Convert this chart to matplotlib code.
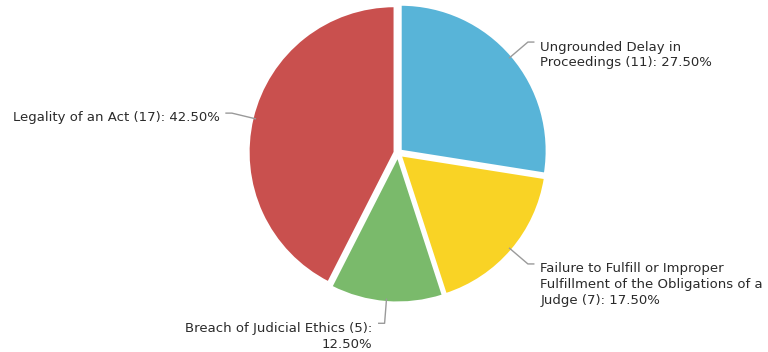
import numpy as np
import matplotlib
matplotlib.use("Agg")
import matplotlib.pyplot as plt

# complaint categories, counts and shares (clockwise from 12 o'clock)
labels = [
    "Ungrounded Delay in\nProceedings (11): 27.50%",
    "Failure to Fulfill or Improper\nFulfillment of the Obligations of a\nJudge (7): 17.50%",
    "Breach of Judicial Ethics (5):\n12.50%",
    "Legality of an Act (17): 42.50%",
]
counts = [11, 7, 5, 17]
colors = ["#58b4d8", "#f9d325", "#7aba6b", "#c9504e"]

W, H = 768, 352
cx, cy, R = 398, 153, 146  # pie centre / radius in pixels

fig = plt.figure(figsize=(W / 100, H / 100), dpi=100)
ax = fig.add_axes([0, 0, 1, 1])

wedges, _ = ax.pie(
    counts,
    startangle=90,
    counterclock=False,
    explode=[0.024] * len(counts),
    colors=colors,
    wedgeprops=dict(edgecolor="white", linewidth=1.5),
)

ax.set_xlim(-cx / R, (W - cx) / R)
ax.set_ylim(-(H - cy) / R, cy / R)
ax.set_aspect("equal")
ax.axis("off")

for w, lab in zip(wedges, labels):
    mid = np.deg2rad((w.theta1 + w.theta2) / 2)
    c, s = np.cos(mid), np.sin(mid)
    x0, y0 = 1.0 * c, 1.0 * s
    x1, y1 = 1.17 * c, 1.17 * s
    side = 1 if c >= 0 else -1
    x2 = x1 + side * 0.045
    ax.plot([x0, x1, x2], [y0, y1, y1], color="#9a9a9a", lw=1, solid_capstyle="butt")
    n_lines = lab.count("\n") + 1
    if n_lines == 1:
        ty, va = y1 - 0.03, "center"
    else:
        ty, va = y1 + 0.01, "top"
    ax.text(x2 + side * 0.04, ty, lab, ha="left" if side > 0 else "right",
            va=va, multialignment="left" if side > 0 else "right",
            fontsize=9.5, color="#2a2a2a", linespacing=1.28)

fig.savefig("out.png", dpi=100, facecolor="white")
